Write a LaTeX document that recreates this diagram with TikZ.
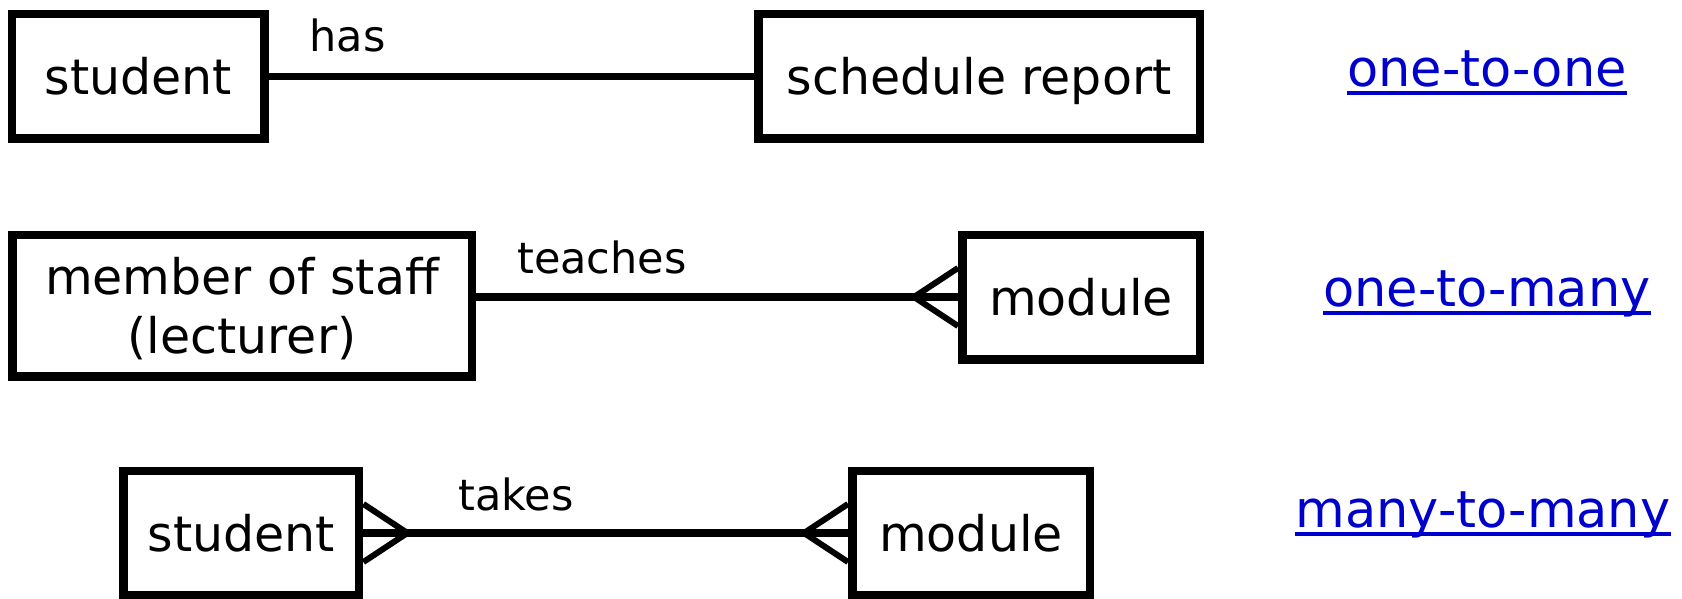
\documentclass[tikz,border=0pt]{standalone}
\usepackage{fontspec}
\setmainfont{DejaVu Sans}
\usetikzlibrary{calc, positioning}

\definecolor{linkblue}{RGB}{0,0,204}

\tikzset{
  entity/.style={draw, line width=8.5pt, inner sep=0pt, minimum height=124.5pt,
    text depth=0pt, font=\fontsize{49}{59}\selectfont},
  rel/.style={inner sep=0pt, text depth=0pt, font=\fontsize{43}{52}\selectfont},
  kind/.style={inner sep=0pt, text depth=0pt, anchor=base, text=linkblue,
    font=\fontsize{51}{61}\selectfont},
  link/.style={line width=7.3pt},
  crow/.style={line width=6pt, line join=miter},
  uline/.style={linkblue, line width=3.5pt},
}

\begin{document}
\begin{tikzpicture}[x=1pt, y=-1pt]
  \useasboundingbox (0,0) rectangle (1682,598);

  \def\fork{29}
  \def\reach{44}

  % one-to-one
  \node[entity, minimum width=252.5] (stud) at (138.4,76.2) {student};
  \node[entity, minimum width=441.5] (sched) at (979,76.2) {schedule report};
  \draw[link] (stud) -- (sched);
  \node[rel] (has) at (347.5,35.4) {has};
  \node[kind] (oto) at (1487,86) {one-to-one};
  \draw[uline] ([yshift=-7pt]oto.south west) -- ([yshift=-7pt]oto.south east);

  % one-to-many
  \node[entity, minimum width=459.5, minimum height=141.5, align=center] (staff) at (242,305.7) {member of staff\\(lecturer)};
  \node[entity, minimum width=237.5] (mod) at (1081,297) {module};
  \draw[link] (staff.east |- mod.west) -- (mod.west);
  \draw[crow] ($(mod.west)+(0,-\fork)$) -- ($(mod.west)+(-\reach,0)$) -- ($(mod.west)+(0,\fork)$);
  \node[rel] (teach) at (602,257.5) {teaches};
  \node[kind] (otm) at (1487,306) {one-to-many};
  \draw[uline] ([yshift=-7pt]otm.south west) -- ([yshift=-7pt]otm.south east);

  % many-to-many
  \node[entity, minimum width=235.5] (stud2) at (241.4,533) {student};
  \node[entity, minimum width=237.5] (mod2) at (971,533) {module};
  \draw[link] (stud2) -- (mod2);
  \draw[crow] ($(stud2.east)+(0,-\fork)$) -- ($(stud2.east)+(\reach,0)$) -- ($(stud2.east)+(0,\fork)$);
  \draw[crow] ($(mod2.west)+(0,-\fork)$) -- ($(mod2.west)+(-\reach,0)$) -- ($(mod2.west)+(0,\fork)$);
  \node[rel] (takes) at (516,494.5) {takes};
  \node[kind] (mtm) at (1483,527) {many-to-many};
  \draw[uline] ([yshift=-7pt]mtm.south west) -- ([yshift=-7pt]mtm.south east);
\end{tikzpicture}
\end{document}
